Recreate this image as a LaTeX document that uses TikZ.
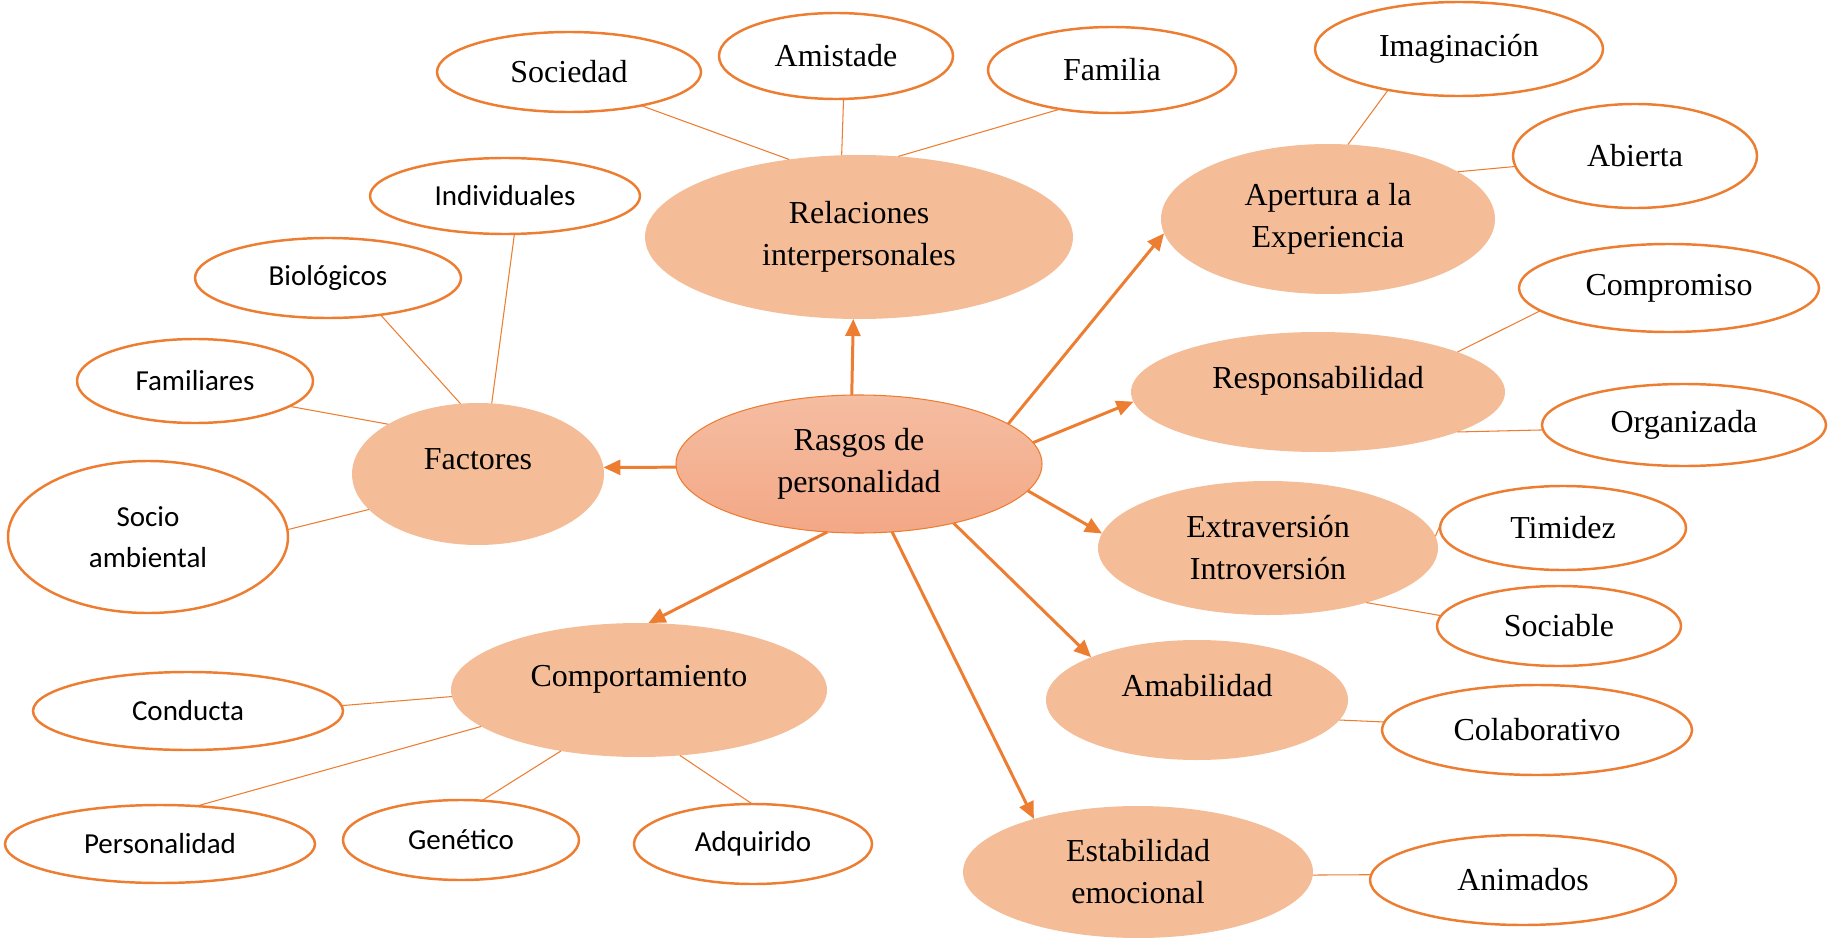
\documentclass[tikz,border=0pt]{standalone}
\usepackage{fontspec}
\usepackage{tikz}
\usetikzlibrary{shapes.geometric,arrows.meta}
\setmainfont{Liberation Serif}
\newfontfamily\calibri{Carlito}
\definecolor{naranja}{HTML}{ED7D31}
\definecolor{durazno}{HTML}{F4BD97}
\definecolor{rasgoarriba}{HTML}{F5BDA2}
\definecolor{rasgoabajo}{HTML}{F3A886}
\newcommand{\serifgrande}{\fontsize{18.2}{23.9}\selectfont}
\newcommand{\sansgrande}{\calibri\fontsize{16.5}{23.3}\selectfont}

\begin{document}
\begin{tikzpicture}[x=0.2mm,y=-0.2mm,
    elip/.style 2 args={ellipse, minimum width=#1*0.4mm, minimum height=#2*0.4mm,
                        inner sep=0pt, outer sep=0pt, align=center},
    rasgo/.style={fill=durazno, font=\serifgrande},
    solo/.style={text depth=5.8mm},
    hoja/.style={draw=naranja, line width=1.4pt, fill=white, font=\serifgrande},
    hojasf/.style={hoja, font=\sansgrande},
    enlace/.style={draw=naranja, line width=0.6pt},
    flecha/.style={draw=naranja, line width=1.7pt, -{Triangle[length=3.4mm,width=3mm]}}]
  \useasboundingbox (0,0) rectangle (1828,938);

  % centro
  \node[elip={183}{69}, draw=naranja, line width=0.6pt, top color=rasgoarriba,
        bottom color=rasgoabajo, font=\serifgrande] (ras) at (859,464) {Rasgos de\\personalidad};

  % rasgos
  \node[elip={214}{82}, rasgo] (rel) at (859,237) {Relaciones\\interpersonales};
  \node[elip={167}{75}, rasgo] (ape) at (1328,219) {Apertura a la\\Experiencia};
  \node[elip={187}{60}, rasgo, solo] (res) at (1318,392) {Responsabilidad};
  \node[elip={170}{67}, rasgo] (ext) at (1268,548) {Extraversión\\Introversión};
  \node[elip={151}{60}, rasgo, solo] (ama) at (1197,700) {Amabilidad};
  \node[elip={175}{66}, rasgo] (est) at (1138,872) {Estabilidad\\emocional};
  \node[elip={188}{67}, rasgo, solo] (com) at (639,690) {Comportamiento};
  \node[elip={126}{71}, rasgo, solo] (fac) at (478,474) {Factores};

  % hojas
  \node[elip={132}{40}, hoja] (soc) at (569,72) {Sociedad};
  \node[elip={117}{43}, hoja] (ami) at (836,56) {Amistade};
  \node[elip={124}{43}, hoja] (fam) at (1112,70) {Familia};
  \node[elip={144}{47}, hoja] (ima) at (1459,49) {Imaginación};
  \node[elip={122}{52}, hoja] (abi) at (1635,156) {Abierta};
  \node[elip={150}{44}, hoja] (cmp) at (1669,288) {Compromiso};
  \node[elip={142}{41}, hoja] (org) at (1684,425) {Organizada};
  \node[elip={123}{42}, hoja] (tim) at (1563,528) {Timidez};
  \node[elip={122}{40}, hoja] (sob) at (1559,626) {Sociable};
  \node[elip={155}{45}, hoja] (col) at (1537,730) {Colaborativo};
  \node[elip={153}{45}, hoja] (ani) at (1523,880) {Animados};

  \node[elip={135}{38}, hojasf] (ind) at (505,196) {Individuales};
  \node[elip={133}{40}, hojasf] (bio) at (328,278) {Biológicos};
  \node[elip={118}{42}, hojasf] (fml) at (195,381) {Familiares};
  \node[elip={140}{76}, hojasf] (sam) at (148,537) {Socio\\ambiental};
  \node[elip={155}{39}, hojasf] (con) at (188,711) {Conducta};
  \node[elip={155}{39}, hojasf] (per) at (160,844) {Personalidad};
  \node[elip={118}{40}, hojasf] (gen) at (461,840) {Genético};
  \node[elip={119}{40}, hojasf] (adq) at (753,844) {Adquirido};

  % lineas finas
  \foreach \a/\b in {soc.-25/rel.132, ami.-80/rel.102, fam.217/rel.64,
                     ind.-76/fac.79, bio.-35/fac.104, fml.-15/fac.151, sam.3/fac.198,
                     con.2/com.182, per.46/com.193, gen.62/com.218, adq.91/com.-58,
                     ima.210/ape.75, abi.185/ape.20, cmp.190/res.16, org.182/res.-16,
                     tim.176/ext.4, sob.175/ext.-29, col.177/ama.-8, ani.178/est.-1}
    \draw[enlace] (\a) -- (\b);

  % flechas
  \foreach \a/\b in {96/rel.266, 181/fac.3, 15/ape.185, 7/res.183,
                     -9.5/ext.175, -32/ama.158, -64/est.153, 245/com.82}
    \draw[flecha] (ras.\a) -- (\b);
\end{tikzpicture}
\end{document}
